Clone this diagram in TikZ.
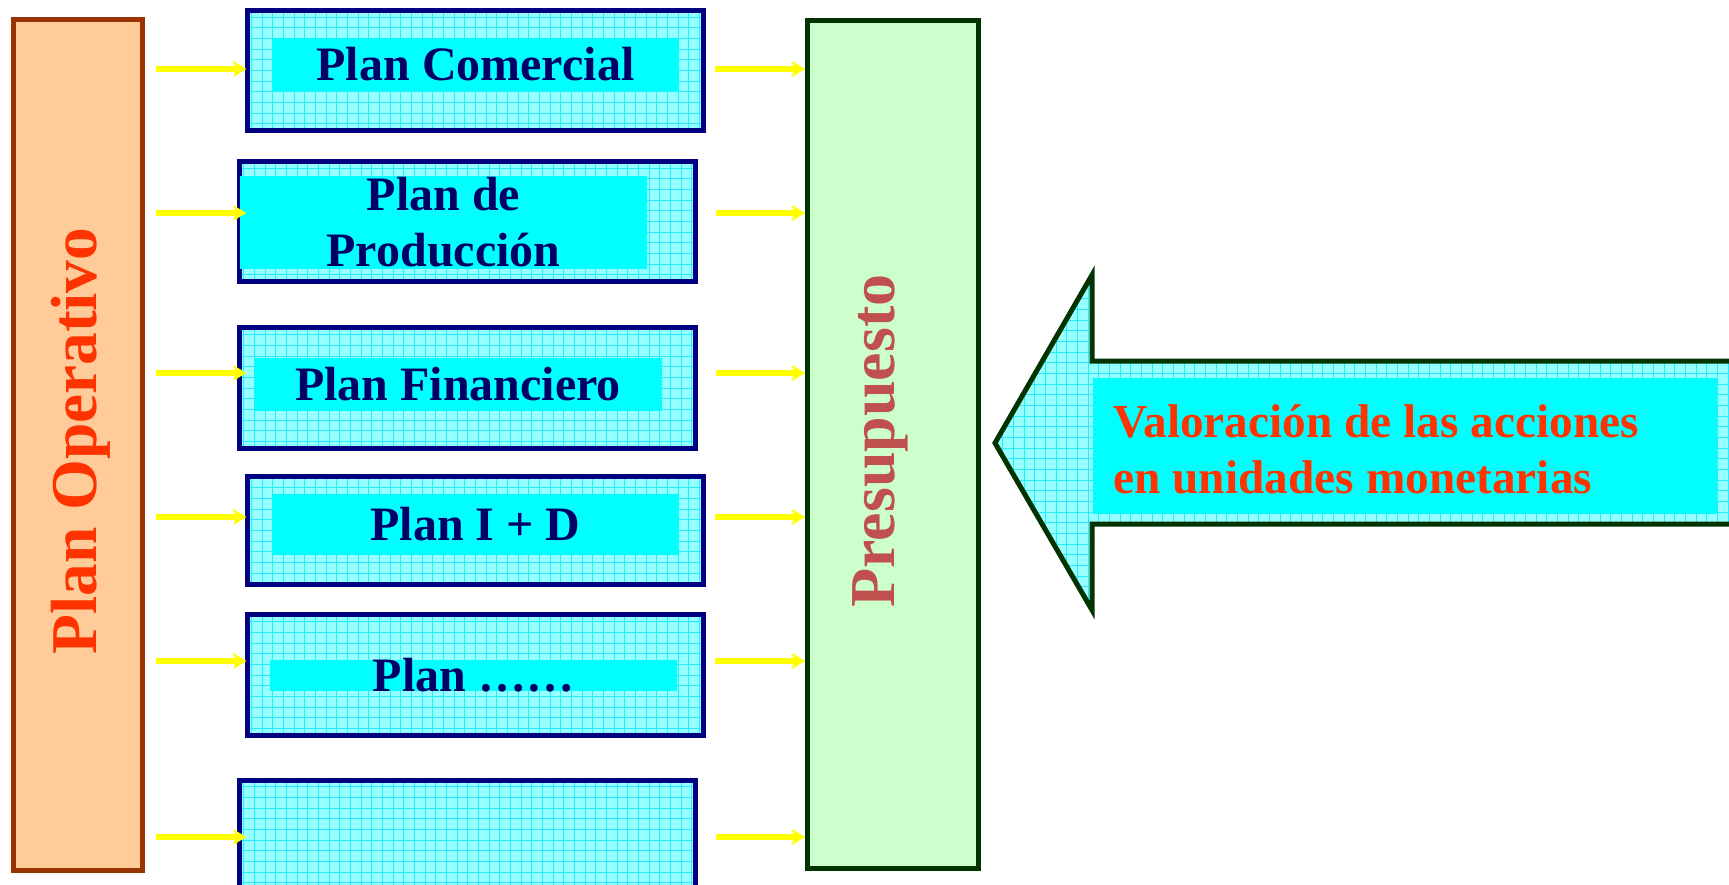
\documentclass[tikz,border=0pt]{standalone}
\usepackage{fontspec}
\setmainfont{Liberation Serif}
\usetikzlibrary{arrows.meta}

\definecolor{navyline}{RGB}{0,0,128}
\definecolor{navytext}{RGB}{0,0,102}
\definecolor{lcyan}{RGB}{150,255,255}
\definecolor{cgrid}{RGB}{40,235,255}
\definecolor{fullcyan}{RGB}{0,255,255}
\definecolor{fullyellow}{RGB}{255,255,0}
\definecolor{opbg}{RGB}{255,204,153}
\definecolor{opedge}{RGB}{153,51,0}
\definecolor{prebg}{RGB}{204,255,204}
\definecolor{preedge}{RGB}{0,51,0}
\definecolor{vred}{RGB}{255,51,0}
\definecolor{prered}{RGB}{192,80,77}

\tikzset{every picture/.style={line width=0.75pt}}
\tikzset{
  gridded/.style={fill=lcyan, path picture={\draw[cgrid, line width=0.6pt, step=8pt] (path picture bounding box.south west) grid (path picture bounding box.north east);}},
  planbox/.style={draw=navyline, line width=3.75pt, gridded, minimum width=342pt, inner sep=0pt},
  planfill/.style={fill=fullcyan, minimum width=305.25pt, inner sep=0pt},
  plantext/.style={text=navytext, font=\fontsize{36}{42}\selectfont\bfseries, align=center, inner sep=0pt},
  yarrow/.style={draw=fullyellow, line width=4pt, -{Stealth[length=10pt,width=12pt,inset=2.5pt]}}
}

\begin{document}
\begin{tikzpicture}[x=0.75pt,y=0.75pt,yscale=-1,xscale=1]
	\useasboundingbox (0,0) rectangle (1729,885);
	\clip (0,0) rectangle (1729,885);

	%Shape: Rectangle
	\node[draw=opedge, fill=opbg, line width=3.75pt, minimum width=97.1pt, minimum height=638.25pt] (op) at (77.75,445) {};
	%Shape: Rectangle
	\node[draw=preedge, fill=prebg, line width=3.75pt, minimum width=127.9pt, minimum height=636pt] (pre) at (892.75,444.5) {};

	%Shape: Rectangle
	\node[planbox, minimum height=90pt] (b1) at (475.5,70.5) {};
	\node[planbox, minimum height=90pt] (b2) at (467.75,221.5) {};
	\node[planbox, minimum height=90.75pt] (b3) at (467.75,388) {};
	\node[planbox, minimum height=81pt] (b4) at (475.5,530.5) {};
	\node[planbox, minimum height=90.75pt] (b5) at (475.5,675) {};
	\node[planbox, minimum height=90pt] (b6) at (467.75,840) {};

	%Shape: Rectangle
	\node[planfill, minimum height=39.75pt] (c1) at (475.5,64.5) {};
	\node[planfill, minimum height=69.75pt] (c2) at (443.5,222.5) {};
	\node[planfill, minimum height=39.75pt] (c3) at (458,384.5) {};
	\node[planfill, minimum height=45.75pt] (c4) at (475.5,524.5) {};
	\node[planfill, minimum height=23.25pt] (c5) at (473.5,675.5) {};

	% Text Node
	\node[plantext] (t1) at (c1) {Plan Comercial};
	% Text Node
	\node[plantext] (t2) at (c2) {Plan de\\Producción};
	% Text Node
	\node[plantext] (t3) at (c3) {Plan Financiero};
	% Text Node
	\node[plantext] (t4) at (c4) {Plan I + D};
	% Text Node
	\node[plantext] (t5) at (c5) {Plan ……};

	%Straight Lines
	\foreach \i/\y/\l/\r in {1/69/1.1/7.1, 2/213/6.75/13.1, 3/373/6.75/13.1, 4/517/1.1/7.1, 5/661/1.1/7.1, 6/837/6.75/13.1} {
		\draw[yarrow] ([xshift=7.9pt]op.east |- 0,\y) -- ([xshift=\l pt]b\i.west |- 0,\y);
		\draw[yarrow] ([xshift=\r pt]b\i.east |- 0,\y) -- (pre.west |- 0,\y);
	}

	%Shape: Left Arrow
	\draw[draw=preedge, line width=3.75pt, gridded] (995,443) -- (1092,275) -- (1092,361) -- (1760,361) -- (1760,524) -- (1092,524) -- (1092,610) -- cycle;
	\node[fill=fullcyan, minimum width=468pt, minimum height=102pt, inner sep=0pt] (vbox) at (1405,446) {};

	% Text Node
	\node[anchor=west, text=vred, font=\fontsize{35.5}{42}\selectfont\bfseries, align=left, inner sep=0pt] (vtext) at (1113,449) {Valoración de las acciones\\en unidades monetarias};
	% Text Node
	\node[rotate=90, text=vred, font=\fontsize{49}{49}\selectfont\bfseries, inner sep=0pt] (optext) at (81,441) {Plan Operativo};
	% Text Node
	\node[rotate=90, text=prered, font=\fontsize{48}{48}\selectfont\bfseries, inner sep=0pt] (pretext) at (880,441) {Presupuesto};

\end{tikzpicture}
\end{document}
